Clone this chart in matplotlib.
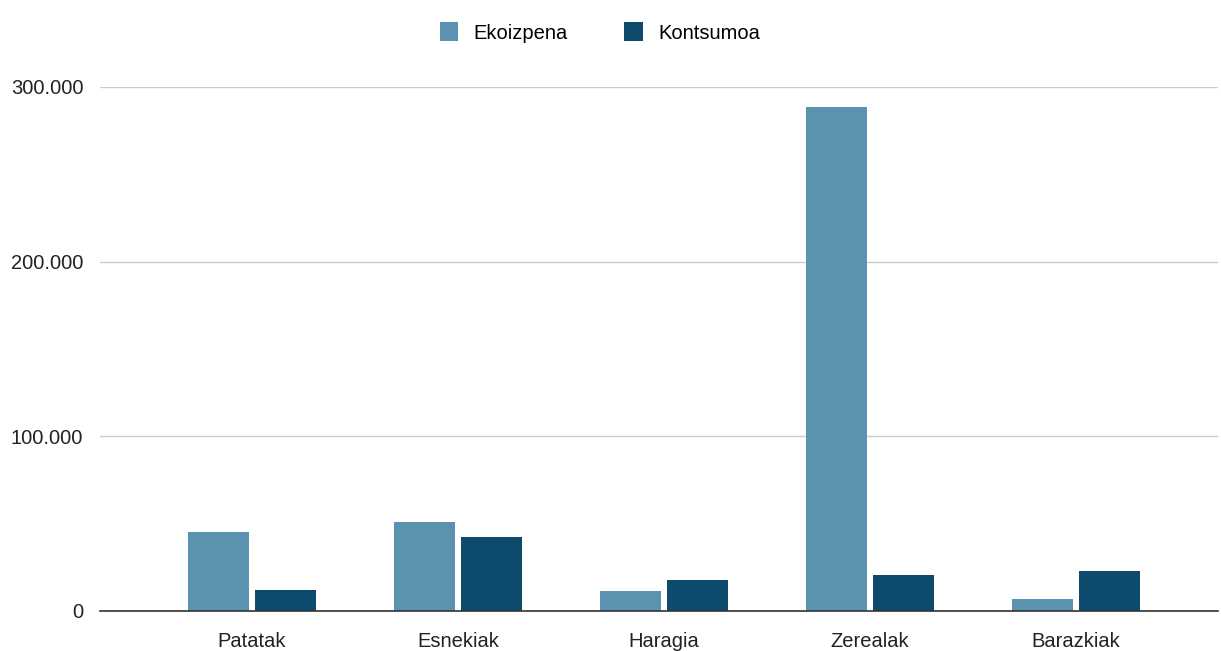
import numpy as np
import matplotlib
matplotlib.use('Agg')
import matplotlib.pyplot as plt
from matplotlib.ticker import FuncFormatter

categories = ['Patatak', 'Esnekiak', 'Haragia', 'Zerealak', 'Barazkiak']
ekoizpena = [45000, 51000, 11500, 288500, 7000]
kontsumoa = [12000, 42500, 18000, 20500, 23000]
series_names = ['Ekoizpena', 'Kontsumoa']

plt.rcParams['font.family'] = ['Liberation Sans', 'DejaVu Sans']

fig = plt.figure(figsize=(12.21, 6.51), dpi=100)
ax = fig.add_axes([100 / 1221, 40 / 651, 1118 / 1221, 524 / 651])

x = np.arange(len(categories))
w = 0.296
gap = 0.015
ax.bar(x - w / 2 - gap, ekoizpena, w, color='#5a92b0', label=series_names[0], zorder=3)
ax.bar(x + w / 2 + gap, kontsumoa, w, color='#0e4a6c', label=series_names[1], zorder=3)

ax.set_xlim(-0.738, 4.69)
ax.set_ylim(0, 300000)
ax.set_yticks([0, 100000, 200000, 300000])
ax.yaxis.set_major_formatter(FuncFormatter(lambda v, p: f'{int(v):,}'.replace(',', '.')))
ax.set_xticks(x)
ax.set_xticklabels(categories)
ax.tick_params(axis='both', length=0, labelsize=14.5, colors='#222222')
ax.tick_params(axis='y', pad=12)
ax.tick_params(axis='x', pad=15)
ax.grid(axis='y', color='#cccccc', linewidth=1, zorder=0)
for s in ['top', 'right', 'left']:
    ax.spines[s].set_visible(False)
ax.spines['bottom'].set_color('#333333')
ax.spines['bottom'].set_linewidth(1.2)
ax.spines['bottom'].set_zorder(4)

fig.legend(loc='upper center', bbox_to_anchor=(600 / 1221, 1 - 4 / 651), ncol=2,
           frameon=False, fontsize=14.5, handlelength=0.9, handleheight=1.1,
           columnspacing=2.8, handletextpad=0.8)

fig.savefig('out.png', dpi=100)
